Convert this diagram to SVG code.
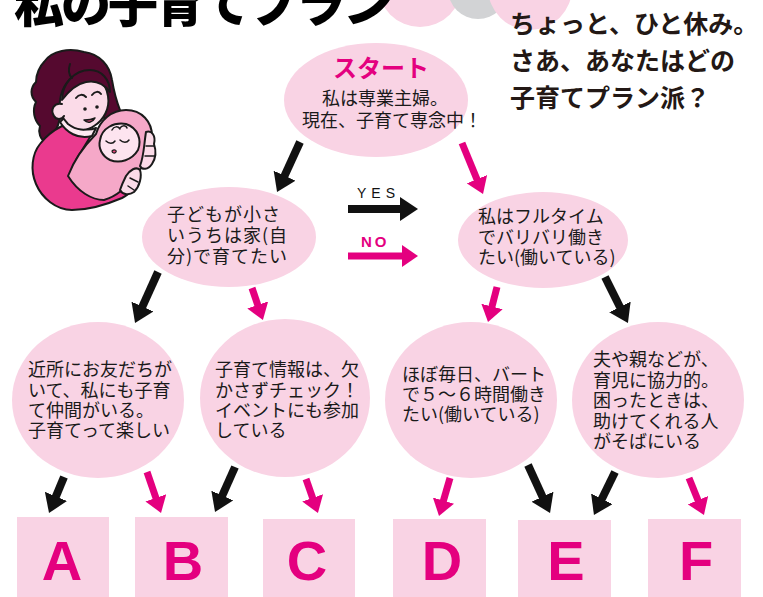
<svg xmlns="http://www.w3.org/2000/svg" width="763" height="597" viewBox="0 0 763 597">
  <style>
    .node{fill:#f9d3e4}
    .t{font-family:"Noto Sans CJK JP","Noto Sans",sans-serif;font-size:18px;fill:#1a1a1a}
    .head{font-family:"Noto Sans CJK JP","Noto Sans",sans-serif;font-size:25px;font-weight:700;fill:#231815}
    .title{font-family:"Noto Sans CJK JP",sans-serif;font-size:50px;font-weight:900;fill:#000}
    .letter{font-family:"Liberation Sans","Noto Sans",sans-serif;font-weight:700;font-size:56px;fill:#e4007f;text-anchor:middle}
    .blk{stroke:#111;stroke-width:8;fill:none;marker-end:url(#hk)}
    .mag{stroke:#e4007f;stroke-width:7;fill:none;marker-end:url(#hm)}
    .ol{stroke:#1a1a1a;stroke-width:2;stroke-linejoin:round;stroke-linecap:round}
  </style>
  <defs>
    <marker id="hk" markerUnits="userSpaceOnUse" viewBox="0 0 18 24" markerWidth="18" markerHeight="24" refX="4" refY="12" orient="auto">
      <path d="M0,0 L18,12 L0,24 Z" fill="#111"/>
    </marker>
    <marker id="hm" markerUnits="userSpaceOnUse" viewBox="0 0 16 22" markerWidth="16" markerHeight="22" refX="2" refY="11" orient="auto">
      <path d="M0,0 L16,11 L0,22 Z" fill="#e4007f"/>
    </marker>
  </defs>

  <rect width="763" height="597" fill="#fff"/>

  <!-- header decoration circles -->
  <g id="header-dots">
    <circle cx="420" cy="-15" r="42" fill="#f9d3e4"/>
    <circle cx="478" cy="-11" r="30" fill="#d2d3d5"/>
    <circle cx="530" cy="-12" r="42" fill="#f9d3e4"/>
  </g>

  <!-- title -->
  <text class="title" x="14" y="22" letter-spacing="-3">私の子育てプラン</text>

  <!-- side heading -->
  <g id="side-heading">
    <text class="head" x="510" y="33">ちょっと、ひと休み。</text>
    <text class="head" x="510" y="70">さあ、あなたはどの</text>
    <text class="head" x="510" y="107">子育てプラン派？</text>
  </g>

  <!-- mother holding a baby -->
  <g id="illustration" class="ol">
    <!-- hair -->
    <path fill="#55092f" d="M44,62 C52,50 70,48 84,52 C100,54 110,66 112,80 C114,92 116,100 120,110 C116,118 110,120 104,118 L100,104 L64,104 L60,118 C58,128 54,136 46,142 C40,140 38,132 40,126 C34,120 32,110 36,102 C30,96 30,88 36,82 C36,74 40,66 44,62 Z"/>
    <!-- sweater -->
    <path fill="#ea3a8e" d="M62,126 C54,130 46,136 40,144 C32,154 30,170 36,184 C42,198 56,210 72,210 C90,210 108,204 122,198 C130,194 134,188 130,184 C118,184 96,186 82,182 C76,176 74,168 76,160 L92,134 Z"/>
    <!-- collar -->
    <path fill="#fde9f1" d="M60,122 C66,132 78,140 92,136 L96,128 C86,132 72,128 64,118 Z"/>
    <!-- face -->
    <path fill="#fbdbe8" d="M60,100 C62,86 70,76 80,74 C94,72 106,82 108,96 C110,108 104,120 94,126 C86,132 76,130 68,124 C62,118 58,110 60,100 Z"/>
    <!-- ear -->
    <path fill="#fbdbe8" d="M62,104 C54,102 50,110 54,116 C56,120 62,120 64,116"/>
    <!-- fringe -->
    <path fill="#55092f" d="M62,100 C62,84 74,70 90,70 C102,70 110,80 110,92 C104,84 96,80 86,82 C76,84 68,92 62,100 Z"/>
    <path fill="none" d="M70,64 C68,70 68,74 72,78"/>
    <!-- brows, eyes, mouth -->
    <path fill="none" d="M76,98 C79,94 83,94 86,97"/>
    <path fill="none" d="M92,95 C95,91 99,91 101,94"/>
    <circle cx="85" cy="109" r="1.8" fill="#1a1a1a" stroke="none"/>
    <circle cx="97" cy="107" r="1.8" fill="#1a1a1a" stroke="none"/>
    <path fill="#e8477f" stroke-width="1.5" d="M84,120 C88,124 93,122 95,118 C91,120 87,120 84,120 Z"/>
    <!-- blanket -->
    <path fill="#f5a8c8" d="M68,176 C74,160 84,146 96,134 C100,120 112,110 126,110 C142,110 152,122 152,136 C152,150 146,164 136,174 C128,186 118,196 104,200 C92,200 78,192 68,176 Z"/>
    <!-- baby face -->
    <path fill="#fde4ef" d="M100,140 C102,128 114,122 126,124 C138,128 142,140 138,150 C132,160 120,164 110,160 C102,156 98,148 100,140 Z"/>
    <path fill="none" stroke-width="1.5" d="M112,130 C114,126 118,126 120,129 M120,128 C122,125 126,125 127,128"/>
    <path fill="none" stroke-width="1.5" d="M106,141 C109,144 113,144 115,141 M120,140 C123,143 127,143 129,140"/>
    <path fill="#e8477f" stroke-width="1.2" d="M112,151 C114,149 117,150 116,152 C115,154 112,153 112,151 Z"/>
    <!-- mother's hands -->
    <path fill="#fbdbe8" d="M146,132 C152,130 156,136 154,144 C156,150 156,158 152,164 C148,170 142,170 140,166 C144,156 144,144 146,132 Z"/>
    <path fill="none" stroke-width="1.5" d="M146,146 L154,146 M145,156 L154,156"/>
    <path fill="#fbdbe8" d="M126,176 C130,170 136,166 140,170 C142,176 140,186 134,192 C128,196 122,194 120,190 C122,184 124,180 126,176 Z"/>
    <path fill="none" stroke-width="1.5" d="M130,178 L138,182 M128,186 L134,190"/>
  </g>

  <!-- connectors -->
  <g id="connectors">
    <line class="blk" x1="300" y1="142" x2="282.9" y2="179.3"/>
    <line class="mag" x1="462" y1="143" x2="477.7" y2="181.1"/>
    <line class="blk" x1="348" y1="209" x2="404" y2="209"/>
    <line class="mag" x1="348" y1="256" x2="404" y2="256"/>
    <line class="blk" x1="158" y1="272" x2="140.8" y2="310.2"/>
    <line class="mag" x1="252" y1="288" x2="258.4" y2="306.8"/>
    <line class="mag" x1="497" y1="287" x2="491.5" y2="308.4"/>
    <line class="blk" x1="605" y1="277" x2="621.7" y2="310.5"/>
    <line class="blk" x1="64" y1="477" x2="54.4" y2="500.1"/>
    <line class="mag" x1="147" y1="472" x2="156.5" y2="499.7"/>
    <line class="blk" x1="235" y1="467" x2="220.7" y2="499.2"/>
    <line class="mag" x1="306" y1="479" x2="313.3" y2="499.8"/>
    <line class="mag" x1="450" y1="478" x2="442.9" y2="502.5"/>
    <line class="blk" x1="528" y1="465" x2="544.2" y2="500.3"/>
    <line class="blk" x1="615" y1="472" x2="600.1" y2="502.4"/>
    <line class="mag" x1="689" y1="478" x2="698.7" y2="502"/>
    <text x="357" y="198" font-family="'Liberation Sans',sans-serif" font-size="14" letter-spacing="5" fill="#111">YES</text>
    <text x="361" y="247" font-family="'Liberation Sans',sans-serif" font-size="15" font-weight="700" letter-spacing="3" fill="#e4007f">NO</text>
  </g>

  <!-- start -->
  <g id="start">
    <ellipse class="node" cx="376" cy="100" rx="92" ry="57"/>
    <text x="381" y="77" text-anchor="middle" font-family="'Noto Sans CJK JP',sans-serif" font-size="24" font-weight="700" fill="#e4007f">スタート</text>
    <text class="t" x="322" y="105">私は専業主婦。</text>
    <text class="t" x="302" y="127">現在、子育て専念中！</text>
  </g>

  <!-- first branch -->
  <g id="q-home">
    <ellipse class="node" cx="229" cy="237" rx="87" ry="50"/>
    <text class="t" x="167" y="221" font-size="19" letter-spacing="1"><tspan x="167">子どもが小さ</tspan><tspan x="167" y="242">いうちは家(自</tspan><tspan x="167" y="263">分)で育てたい</tspan></text>
  </g>
  <g id="q-work">
    <ellipse class="node" cx="543" cy="240" rx="85" ry="48"/>
    <text class="t" x="478" y="223"><tspan x="478">私はフルタイム</tspan><tspan x="478" y="244">でバリバリ働き</tspan><tspan x="478" y="264">たい(働いている)</tspan></text>
  </g>

  <!-- second branch -->
  <g id="q-friends">
    <ellipse class="node" cx="98" cy="400" rx="86" ry="78"/>
    <text class="t" x="28" y="376"><tspan x="28">近所にお友だちが</tspan><tspan x="28" y="397">いて、私にも子育</tspan><tspan x="28" y="417">て仲間がいる。</tspan><tspan x="28" y="437">子育てって楽しい</tspan></text>
  </g>
  <g id="q-info">
    <ellipse class="node" cx="285" cy="398" rx="85" ry="79"/>
    <text class="t" x="215" y="376"><tspan x="215">子育て情報は、欠</tspan><tspan x="215" y="397">かさずチェック！</tspan><tspan x="215" y="417">イベントにも参加</tspan><tspan x="215" y="437">している</tspan></text>
  </g>
  <g id="q-parttime">
    <ellipse class="node" cx="471" cy="400" rx="86" ry="78"/>
    <text class="t" x="402" y="381"><tspan x="402">ほぼ毎日、バート</tspan><tspan x="402" y="401">で５～６時間働き</tspan><tspan x="402" y="421">たい(働いている)</tspan></text>
  </g>
  <g id="q-support">
    <ellipse class="node" cx="658" cy="400" rx="86" ry="78"/>
    <text class="t" x="593" y="366" font-size="18.5"><tspan x="593">夫や親などが、</tspan><tspan x="593" y="387">育児に協力的。</tspan><tspan x="593" y="407">困ったときは、</tspan><tspan x="593" y="428">助けてくれる人</tspan><tspan x="593" y="448">がそばにいる</tspan></text>
  </g>

  <!-- results -->
  <g id="result-a"><rect class="node" x="17" y="517" width="92" height="80"/><text class="letter" x="62" y="580">A</text></g>
  <g id="result-b"><rect class="node" x="135" y="517" width="93" height="80"/><text class="letter" x="183" y="580">B</text></g>
  <g id="result-c"><rect class="node" x="263" y="519" width="92" height="78"/><text class="letter" x="307" y="580">C</text></g>
  <g id="result-d"><rect class="node" x="393" y="519" width="93" height="78"/><text class="letter" x="442" y="580">D</text></g>
  <g id="result-e"><rect class="node" x="518" y="520" width="93" height="77"/><text class="letter" x="566" y="580">E</text></g>
  <g id="result-f"><rect class="node" x="648" y="519" width="93" height="78"/><text class="letter" x="696" y="580">F</text></g>
</svg>
